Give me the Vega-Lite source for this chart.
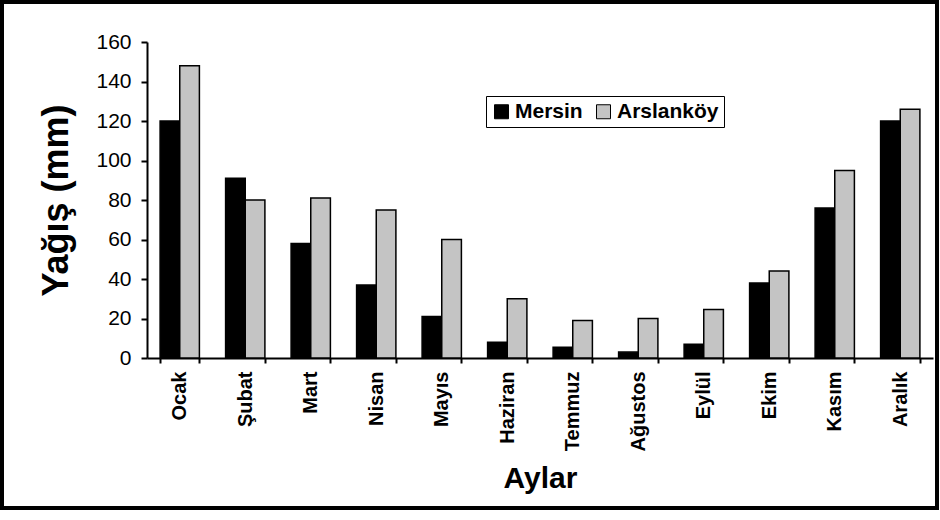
{
  "$schema": "https://vega.github.io/schema/vega-lite/v6.json",
  "autosize": "none",
  "width": 935,
  "height": 506,
  "padding": {"left": 2, "top": 2, "right": 3, "bottom": 12},
  "background": "white",
  "config": {
    "font": "Liberation Sans",
    "view": {"stroke": "black", "strokeWidth": 4},
    "axis": {"grid": false, "domainColor": "black", "domainWidth": 2, "tickColor": "black", "tickWidth": 2, "labelColor": "black", "titleColor": "black"}
  },
  "data": {
    "values": [
      {"ay": "Ocak", "istasyon": "Mersin", "yagis": 120},
      {"ay": "Ocak", "istasyon": "Arslanköy", "yagis": 148},
      {"ay": "Şubat", "istasyon": "Mersin", "yagis": 91},
      {"ay": "Şubat", "istasyon": "Arslanköy", "yagis": 80},
      {"ay": "Mart", "istasyon": "Mersin", "yagis": 58},
      {"ay": "Mart", "istasyon": "Arslanköy", "yagis": 81},
      {"ay": "Nisan", "istasyon": "Mersin", "yagis": 37},
      {"ay": "Nisan", "istasyon": "Arslanköy", "yagis": 75},
      {"ay": "Mayıs", "istasyon": "Mersin", "yagis": 21},
      {"ay": "Mayıs", "istasyon": "Arslanköy", "yagis": 60},
      {"ay": "Haziran", "istasyon": "Mersin", "yagis": 8},
      {"ay": "Haziran", "istasyon": "Arslanköy", "yagis": 30},
      {"ay": "Temmuz", "istasyon": "Mersin", "yagis": 5.5},
      {"ay": "Temmuz", "istasyon": "Arslanköy", "yagis": 19},
      {"ay": "Ağustos", "istasyon": "Mersin", "yagis": 3},
      {"ay": "Ağustos", "istasyon": "Arslanköy", "yagis": 20},
      {"ay": "Eylül", "istasyon": "Mersin", "yagis": 7},
      {"ay": "Eylül", "istasyon": "Arslanköy", "yagis": 24.5},
      {"ay": "Ekim", "istasyon": "Mersin", "yagis": 38},
      {"ay": "Ekim", "istasyon": "Arslanköy", "yagis": 44},
      {"ay": "Kasım", "istasyon": "Mersin", "yagis": 76},
      {"ay": "Kasım", "istasyon": "Arslanköy", "yagis": 95},
      {"ay": "Aralık", "istasyon": "Mersin", "yagis": 120},
      {"ay": "Aralık", "istasyon": "Arslanköy", "yagis": 126}
    ]
  },
  "mark": {"type": "bar", "stroke": "black", "strokeWidth": 1.5},
  "encoding": {
    "x": {
      "field": "ay", "type": "nominal", "sort": null,
      "scale": {"range": [145, 931], "paddingInner": 0.4, "paddingOuter": 0.2},
      "axis": {
        "title": "Aylar", "titleFontSize": 30, "titleFontWeight": "bold", "titlePadding": 12,
        "labelAngle": -90, "labelFontSize": 20, "labelFontWeight": "bold", "labelPadding": 8,
        "tickBand": "extent", "tickSize": 5, "offset": -150
      }
    },
    "xOffset": {"field": "istasyon", "type": "nominal", "sort": ["Mersin", "Arslanköy"], "scale": {"paddingInner": 0}},
    "y": {
      "field": "yagis", "type": "quantitative",
      "scale": {"domain": [0, 160], "range": [356, 40], "nice": false},
      "axis": {
        "title": "Yağış (mm)", "titleFontSize": 36, "titleFontWeight": "bold", "titlePadding": 20,
        "values": [0, 20, 40, 60, 80, 100, 120, 140, 160],
        "labelFontSize": 21, "labelPadding": 10, "tickSize": 6, "offset": -145
      }
    },
    "color": {
      "field": "istasyon", "type": "nominal",
      "scale": {"domain": ["Mersin", "Arslanköy"], "range": ["#000000", "#c4c4c4"]},
      "legend": {
        "title": null, "orient": "none", "legendX": 484, "legendY": 94, "direction": "horizontal",
        "symbolType": "square", "symbolSize": 196, "symbolStrokeColor": "black", "symbolStrokeWidth": 1,
        "labelFontSize": 21, "labelFontWeight": "bold", "labelColor": "black", "labelOffset": 3,
        "columnPadding": 10, "strokeColor": "black", "padding": 5, "fillColor": "white"
      }
    }
  }
}
